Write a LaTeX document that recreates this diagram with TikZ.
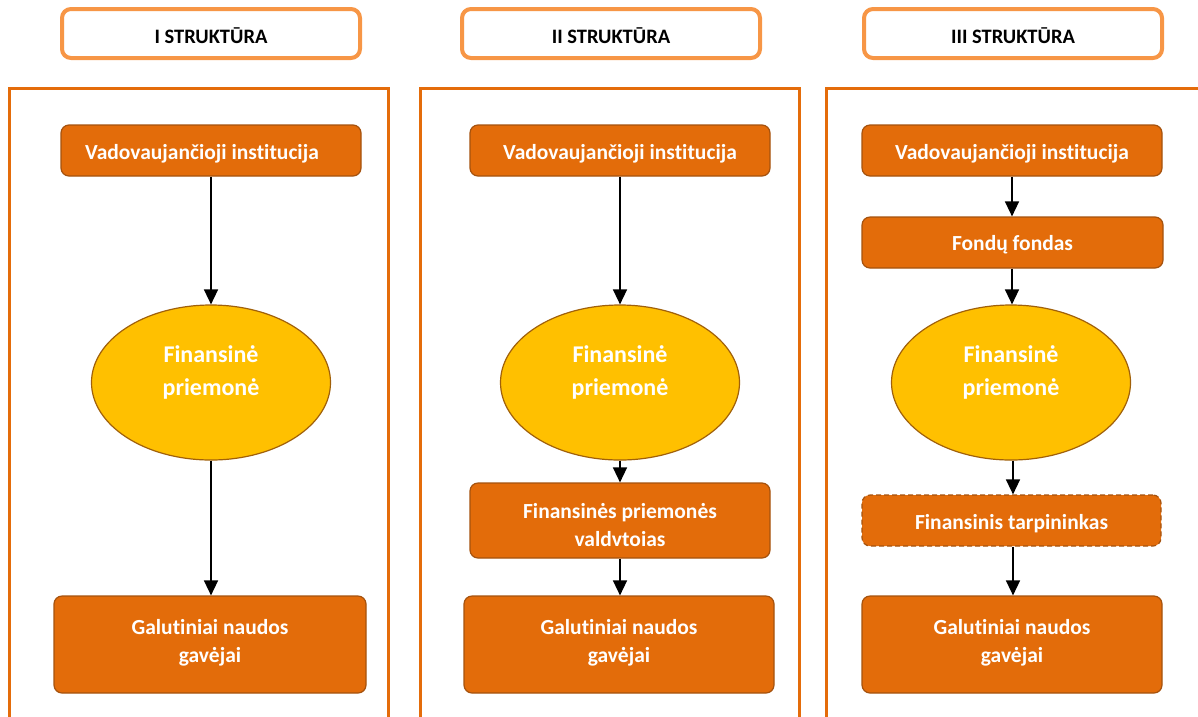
\documentclass[tikz,border=0pt]{standalone}
\usepackage{fontspec}
\setmainfont{Carlito}[RawFeature={-liga}]
\usetikzlibrary{arrows.meta,shapes.geometric}
\definecolor{boxfill}{HTML}{E36C0A}
\definecolor{boxedge}{HTML}{A5520E}
\definecolor{headedge}{HTML}{F79646}
\definecolor{paneledge}{HTML}{E46C0A}
\definecolor{ellfill}{HTML}{FFC000}
\definecolor{elledge}{HTML}{A0600A}
\tikzset{
  head/.style={draw=headedge, line width=4pt, fill=white, rounded corners=9pt, minimum width=298pt, minimum height=49pt},
  htxt/.style={font=\bfseries\fontsize{20.5}{24}\selectfont, text=black, yshift=-2.5pt},
  panel/.style={draw=paneledge, line width=3pt},
  obox/.style={draw=boxedge, line width=1.2pt, fill=boxfill, rounded corners=8pt, inner sep=0pt},
  otxt/.style={text=white, font=\bfseries\fontsize{21.5}{28}\selectfont, align=center, inner sep=0pt},
  oell/.style={ellipse, draw=elledge, line width=1.2pt, fill=ellfill, minimum width=239pt, minimum height=155pt, inner sep=0pt},
  etxt/.style={text=white, font=\bfseries\fontsize{24}{33}\selectfont, align=center, inner sep=0pt, yshift=10pt},
  arr/.style={-{Triangle[width=14pt,length=15pt]}, line width=1.5pt, black},
}
\begin{document}
\begin{tikzpicture}[x=1pt,y=-1pt]
\useasboundingbox (0,0) rectangle (1198,716);
\clip (0,0) rectangle (1198,716);
% headers
\node[head, label={[htxt]center:I STRUKTŪRA}] (h1) at (211,33.5) {};
\node[head, label={[htxt]center:II STRUKTŪRA}] (h2) at (611,33.5) {};
\node[head, label={[htxt]center:III STRUKTŪRA}] (h3) at (1013,33.5) {};
% panels
\draw[panel] (9,730) -- (9,88) -- (388,88) -- (388,730);
\draw[panel] (420,730) -- (420,88) -- (799,88) -- (799,730);
\draw[panel] (826,730) -- (826,88) -- (1210,88);
% panel I
\node[obox, minimum width=300pt, minimum height=51pt, label={[otxt, yshift=-3pt, xshift=-9pt]center:Vadovaujančioji institucija}] (v1) at (211,150.5) {};
\node[oell, label={[etxt]center:Finansinė\\priemonė}] (e1) at (211,382.5) {};
\node[obox, minimum width=312pt, minimum height=97pt, label={[otxt, yshift=2pt]center:Galutiniai naudos\\gavėjai}] (g1) at (210,644.5) {};
\draw[arr] (v1.south -| e1.north) -- (e1.north);
\draw[arr] (e1.south) -- (e1.south |- g1.north);
% panel II
\node[obox, minimum width=300pt, minimum height=51pt, label={[otxt, yshift=-3pt]center:Vadovaujančioji institucija}] (v2) at (620,150.5) {};
\node[oell, label={[etxt]center:Finansinė\\priemonė}] (e2) at (620,382.5) {};
\node[obox, minimum width=300pt, minimum height=75pt, label={[otxt, yshift=-5pt]center:Finansinės priemonės\\valdvtoias}] (m2) at (620,520.5) {};
\node[obox, minimum width=310pt, minimum height=97pt, label={[otxt, yshift=2pt]center:Galutiniai naudos\\gavėjai}] (g2) at (619,644.5) {};
\draw[arr] (v2.south -| e2.north) -- (e2.north);
\draw[arr] (e2.south) -- (e2.south |- m2.north);
\draw[arr] (m2.south) -- (m2.south |- g2.north);
% panel III
\node[obox, minimum width=300pt, minimum height=51pt, label={[otxt, yshift=-3pt]center:Vadovaujančioji institucija}] (v3) at (1012,150.5) {};
\node[obox, minimum width=301pt, minimum height=51pt, label={[otxt, yshift=-2pt]center:Fondų fondas}] (f3) at (1012.5,242.5) {};
\node[oell, label={[etxt]center:Finansinė\\priemonė}] (e3) at (1011,382.5) {};
\node[obox, dashed, dash pattern=on 5pt off 3pt, minimum width=299pt, minimum height=51pt, label={[otxt, yshift=-3pt]center:Finansinis tarpininkas}] (t3) at (1011.5,520.5) {};
\node[obox, minimum width=300pt, minimum height=97pt, label={[otxt, yshift=2pt]center:Galutiniai naudos\\gavėjai}] (g3) at (1012,644.5) {};
\draw[arr] (v3.south -| 1012,0) -- (f3.north -| 1012,0);
\draw[arr] (f3.south -| 1012,0) -- (e3.north -| 1012,0);
\draw[arr] (e3.south -| 1013,0) -- (t3.north -| 1013,0);
\draw[arr] (t3.south -| 1013,0) -- (g3.north -| 1013,0);
\end{tikzpicture}
\end{document}
